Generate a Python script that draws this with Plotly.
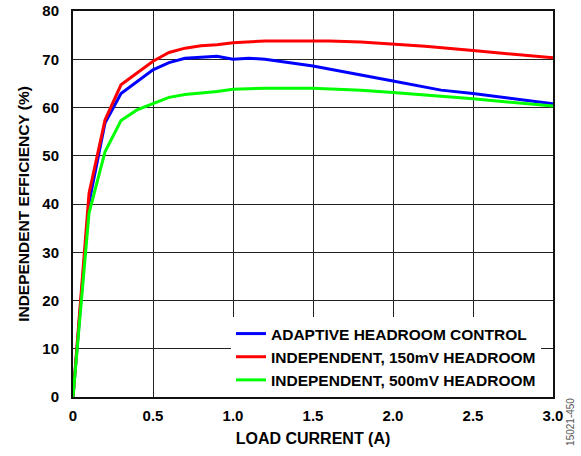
import plotly.graph_objects as go

# load current (A) and efficiency (%)
adaptive_x = [0, 0.1, 0.2, 0.3, 0.5, 0.6, 0.7, 0.9, 1.0, 1.1, 1.2, 1.5, 2.0, 2.3, 2.5, 3.0]
adaptive_y = [0, 40.2, 56.8, 62.9, 67.8, 69.3, 70.2, 70.6, 70.0, 70.2, 70.0, 68.6, 65.5, 63.6, 62.9, 60.8]

hr150_x = [0, 0.1, 0.2, 0.3, 0.5, 0.6, 0.7, 0.8, 0.9, 1.0, 1.2, 1.6, 1.8, 2.0, 2.2, 2.5, 2.7, 3.0]
hr150_y = [0, 42.2, 57.4, 64.7, 69.6, 71.4, 72.3, 72.8, 73.0, 73.4, 73.8, 73.8, 73.6, 73.2, 72.7, 71.8, 71.2, 70.3]

hr500_x = [0, 0.1, 0.2, 0.3, 0.4, 0.6, 0.7, 0.9, 1.0, 1.2, 1.5, 1.8, 2.0, 2.5, 3.0]
hr500_y = [0, 38.1, 50.8, 57.3, 59.5, 62.1, 62.7, 63.3, 63.8, 64.0, 64.0, 63.6, 63.1, 61.8, 60.3]

x_ticks = [0, 0.5, 1.0, 1.5, 2.0, 2.5, 3.0]
x_labels = ["0", "0.5", "1.0", "1.5", "2.0", "2.5", "3.0"]
y_ticks = [0, 10, 20, 30, 40, 50, 60, 70, 80]

font = "Liberation Sans, Arial, sans-serif"

fig = go.Figure()
fig.add_trace(go.Scatter(x=adaptive_x, y=adaptive_y, mode="lines",
                         line=dict(color="#0000ff", width=3),
                         name="<b>ADAPTIVE HEADROOM CONTROL</b>"))
fig.add_trace(go.Scatter(x=hr150_x, y=hr150_y, mode="lines",
                         line=dict(color="#ff0000", width=3),
                         name="<b>INDEPENDENT, 150mV HEADROOM</b>"))
fig.add_trace(go.Scatter(x=hr500_x, y=hr500_y, mode="lines",
                         line=dict(color="#00ff00", width=3),
                         name="<b>INDEPENDENT, 500mV HEADROOM</b>"))

fig.update_layout(
    width=581, height=456,
    margin=dict(l=73, r=28, t=11, b=59),
    paper_bgcolor="white", plot_bgcolor="white",
    font=dict(family=font, size=15, color="black"),
    showlegend=True,
    legend=dict(x=0.975, y=0.0, xanchor="right", yanchor="bottom",
                bgcolor="white", borderwidth=0,
                font=dict(size=15.5, family=font),
                itemwidth=30, tracegroupgap=0),
)
fig.update_xaxes(
    range=[0, 3.0], tickvals=x_ticks, ticktext=["<b>%s</b>" % t for t in x_labels],
    showgrid=True, gridcolor="#222", gridwidth=1,
    showline=True, linecolor="#111", linewidth=2, mirror=True,
    zeroline=False, ticks="inside", ticklen=5, tickcolor="#222",
    tickfont=dict(size=15), ticklabelstandoff=4, automargin=False,
    title=dict(text="<b>LOAD CURRENT (A)</b>", font=dict(size=16), standoff=10),
)
fig.update_yaxes(
    range=[0, 80], tickvals=y_ticks, ticktext=["<b>%d</b>" % t for t in y_ticks],
    showgrid=True, gridcolor="#222", gridwidth=1,
    showline=True, linecolor="#111", linewidth=2, mirror=True,
    zeroline=False, ticks="", tickfont=dict(size=15),
    ticklabelstandoff=9, automargin=False,
    title=dict(text="<b>INDEPENDENT EFFICIENCY (%)</b>", font=dict(size=15.5), standoff=9),
)
fig.add_annotation(text="15021-450", xref="paper", yref="paper",
                   x=1.035, y=-0.065, textangle=-90, showarrow=False,
                   xanchor="center", yanchor="middle",
                   font=dict(size=10, color="#555", family=font))

# drop the default body margin so the figure sits at the page corner
fig.write_html("out.html", config={"displayModeBar": False},
               post_script="document.body.style.margin='0';")
